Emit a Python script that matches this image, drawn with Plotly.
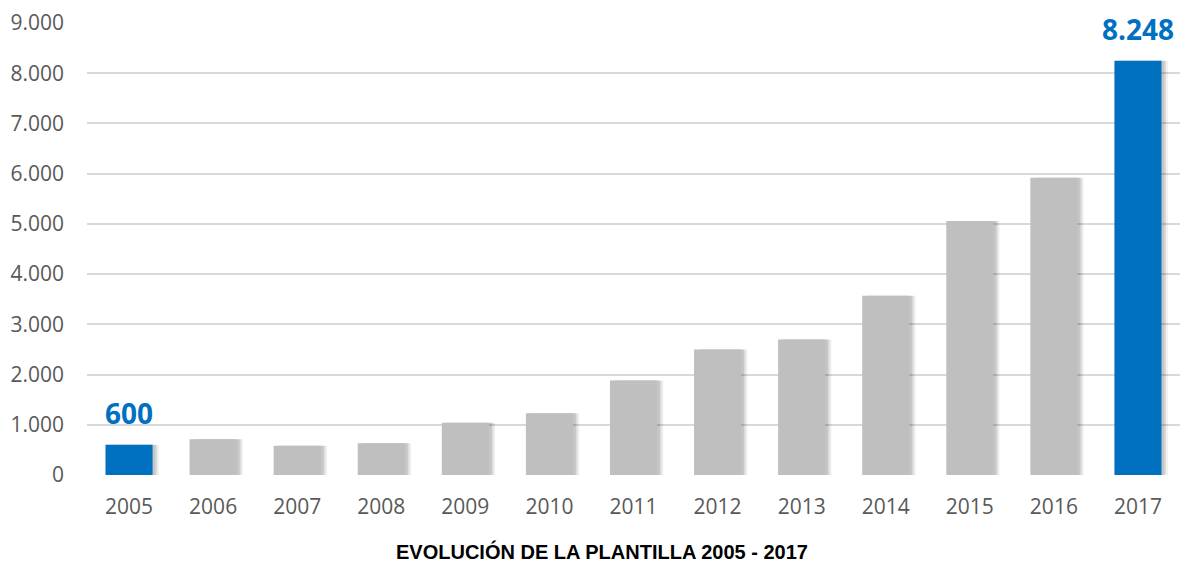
import plotly.graph_objects as go

years = [2005, 2006, 2007, 2008, 2009, 2010, 2011, 2012, 2013, 2014, 2015, 2016, 2017]
plantilla = [600, 710, 580, 630, 1040, 1230, 1880, 2500, 2700, 3570, 5060, 5920, 8248]
highlight_years = [2005, 2017]
y_ticks = [0, 1000, 2000, 3000, 4000, 5000, 6000, 7000, 8000, 9000]
title_text = "EVOLUCIÓN DE LA PLANTILLA 2005 - 2017"

GRAY = "#BFBFBF"
BLUE = "#0070C0"
colors = [BLUE if y in highlight_years else GRAY for y in years]

bar_w = 0.56
fig = go.Figure()

# soft shadow layers to the right of each bar
for dx, op in [(0.075, 0.06), (0.055, 0.08), (0.035, 0.10)]:
    fig.add_trace(go.Bar(
        x=years, y=plantilla, width=bar_w, offset=-bar_w / 2 + dx,
        marker=dict(color=f"rgba(0,0,0,{op})", line=dict(width=0)),
        hoverinfo="skip", showlegend=False,
    ))

fig.add_trace(go.Bar(
    x=years, y=plantilla, width=bar_w, offset=-bar_w / 2,
    marker=dict(color=colors, line=dict(width=0)),
    showlegend=False,
))

def fmt(v):
    return f"{v:,}".replace(",", ".")

for yr, v in zip(years, plantilla):
    if yr in highlight_years:
        fig.add_annotation(
            x=yr, y=v, xref="x", yref="y", text=f"<b>{fmt(v)}</b>",
            showarrow=False, yanchor="bottom", yshift=11,
            font=dict(family="Open Sans", size=28, color=BLUE),
        )

fig.add_annotation(
    x=(602 - 87) / 1093, y=0.0, xref="paper", yref="paper", yanchor="bottom",
    xanchor="center", text=f"<b>{title_text}</b>", showarrow=False,
    yshift=-89, borderpad=0,
    font=dict(family="Liberation Sans, Arial", size=20, color="#000000"),
)

fig.update_layout(
    width=1186, height=565,
    margin=dict(l=87, r=6, t=23, b=90),
    paper_bgcolor="white", plot_bgcolor="white",
    barmode="overlay",
    separators=",.",
    xaxis=dict(
        range=[2004.5, 2017.5], tickvals=years, ticktext=[str(y) for y in years],
        showgrid=False, zeroline=False, showline=False, ticks="",
        tickfont=dict(family="Open Sans", size=21, color="#595959"),
        ticklabelstandoff=17,
    ),
    yaxis=dict(
        range=[0, 9000], tickvals=y_ticks, tickformat=",d",
        showgrid=True, gridcolor="#D9D9D9", gridwidth=2,
        zeroline=False, showline=False, ticks="",
        tickfont=dict(family="Open Sans", size=21, color="#595959"),
        ticklabelstandoff=22,
    ),
)

fig.write_html("out.html", config={"displayModeBar": False},
               post_script="document.body.style.margin='0px';")
